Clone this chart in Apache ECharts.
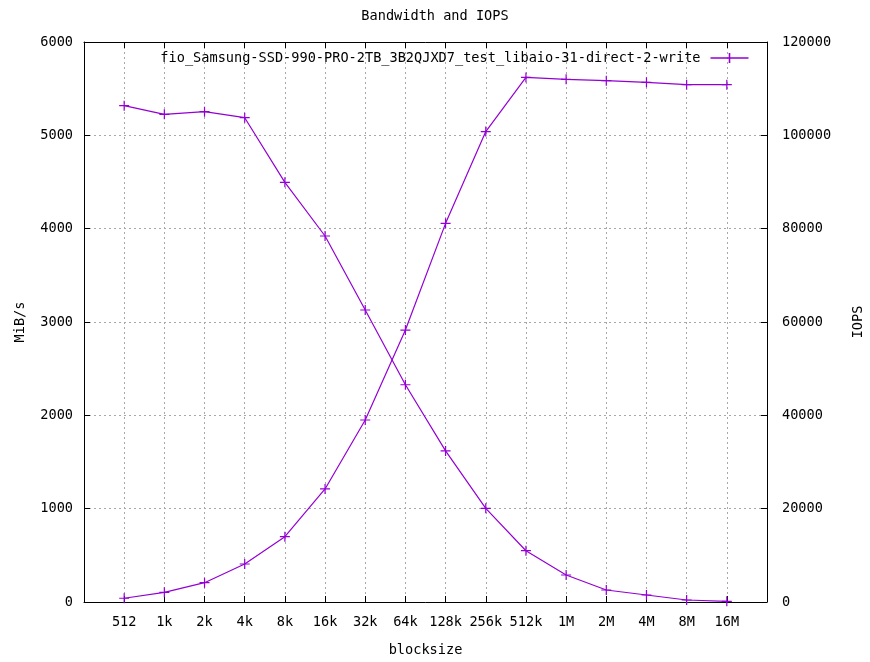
<!DOCTYPE html>
<html>
<head>
<meta charset="utf-8">
<script src="https://cdn.jsdelivr.net/npm/echarts@6/dist/echarts.min.js"></script>
<style>html,body{margin:0;padding:0;background:#fff}#c{width:870px;height:662px}</style>
</head>
<body>
<div id="c"></div>
<script>
var categories = ['512','1k','2k','4k','8k','16k','32k','64k','128k','256k','512k','1M','2M','4M','8M','16M'];
var bandwidthMiBs = [40, 104, 207, 407, 700, 1211, 1950, 2914, 4057, 5040, 5620, 5600, 5586, 5568, 5543, 5543];
var iops = [106350, 104500, 105070, 103780, 89930, 78430, 62570, 46550, 32380, 20070, 10990, 5786, 2571, 1500, 429, 143];
var leftTicks = {min: 0, max: 6000, interval: 1000};
var rightTicks = {min: 0, max: 120000, interval: 20000};
var seriesName = 'fio_Samsung-SSD-990-PRO-2TB_3B2QJXD7_test_libaio-31-direct-2-write';

var FONT = '"DejaVu Sans Mono", monospace';
var FS = 13.6;
var COLOR = '#9400d3';
var plus = 'path://M0,5L10,5M5,0L5,10';

function pairs(arr) { return arr.map(function (v, i) { return [i, v]; }); }

var chart = echarts.init(document.getElementById('c'), null, {renderer: 'canvas'});
var grid = {left: 84, right: 103, top: 42, bottom: 60, containLabel: false, outerBoundsMode: 'none'};
var tickStyle = {show: true, inside: true, length: 6, lineStyle: {color: '#000', width: 1}};
var gridStyle = {show: true, lineStyle: {color: '#a8a8a8', width: 1, type: [2, 3]}};
var labelFmt = function (v) { return (v >= 0 && v < categories.length && v === Math.round(v)) ? categories[v] : ''; };
var plain = function (v) { return String(v); };
var markStyle = {color: 'none', borderColor: COLOR, borderWidth: 1.2};
var legendMark = {color: 'none', borderColor: COLOR, borderWidth: 1.6};

chart.setOption({
  animation: false,
  backgroundColor: '#fff',
  title: {
    text: 'Bandwidth and IOPS', left: 'center', top: 4,
    textStyle: {fontFamily: FONT, fontSize: FS, fontWeight: 'normal', color: '#000'}
  },
  legend: {
    data: [{name: seriesName, icon: 'path://M0,5L38,5M19,0L19,10', itemStyle: legendMark}],
    right: 114, top: 45.5, align: 'right', itemWidth: 38, itemHeight: 10, itemGap: 10,
    textStyle: {fontFamily: FONT, fontSize: FS, color: '#000', padding: [0, 5, 0, 0]},
    itemStyle: legendMark
  },
  grid: grid,
  xAxis: [{
    type: 'value', min: -1, max: categories.length, interval: 1,
    name: 'blocksize', nameLocation: 'middle', nameGap: 41,
    nameTextStyle: {fontFamily: FONT, fontSize: FS, color: '#000'},
    axisLine: {show: true, onZero: false, lineStyle: {color: '#000', width: 1}},
    axisTick: tickStyle,
    axisLabel: {formatter: labelFmt, fontFamily: FONT, fontSize: FS, color: '#000', margin: 13, showMinLabel: true, showMaxLabel: true},
    splitLine: gridStyle
  }, {
    type: 'value', position: 'top', min: -1, max: categories.length, interval: 1,
    axisLine: {show: true, onZero: false, lineStyle: {color: '#000', width: 1}},
    axisTick: tickStyle, axisLabel: {show: false}, splitLine: {show: false}
  }],
  yAxis: [{
    type: 'value', min: leftTicks.min, max: leftTicks.max, interval: leftTicks.interval,
    name: 'MiB/s', nameLocation: 'middle', nameGap: 57, nameRotate: 90,
    nameTextStyle: {fontFamily: FONT, fontSize: FS, color: '#000'},
    axisLine: {show: true, onZero: false, lineStyle: {color: '#000', width: 1}},
    axisTick: tickStyle,
    axisLabel: {formatter: plain, fontFamily: FONT, fontSize: FS, color: '#000', margin: 11},
    splitLine: gridStyle
  }, {
    type: 'value', position: 'right', min: rightTicks.min, max: rightTicks.max, interval: rightTicks.interval,
    name: 'IOPS', nameLocation: 'middle', nameGap: 84, nameRotate: 90,
    nameTextStyle: {fontFamily: FONT, fontSize: FS, color: '#000'},
    axisLine: {show: true, onZero: false, lineStyle: {color: '#000', width: 1}},
    axisTick: tickStyle,
    axisLabel: {formatter: plain, fontFamily: FONT, fontSize: FS, color: '#000', margin: 15},
    splitLine: {show: false}
  }],
  series: [{
    name: seriesName, type: 'line', xAxisIndex: 0, yAxisIndex: 0,
    data: pairs(bandwidthMiBs),
    symbol: plus, symbolSize: 10, showAllSymbol: true,
    lineStyle: {color: COLOR, width: 1.2},
    itemStyle: markStyle,
    emphasis: {disabled: true}
  }, {
    name: 'iops', type: 'line', xAxisIndex: 0, yAxisIndex: 1,
    data: pairs(iops),
    symbol: plus, symbolSize: 10, showAllSymbol: true,
    lineStyle: {color: COLOR, width: 1.2},
    itemStyle: markStyle,
    emphasis: {disabled: true}
  }]
});
</script>
</body>
</html>
